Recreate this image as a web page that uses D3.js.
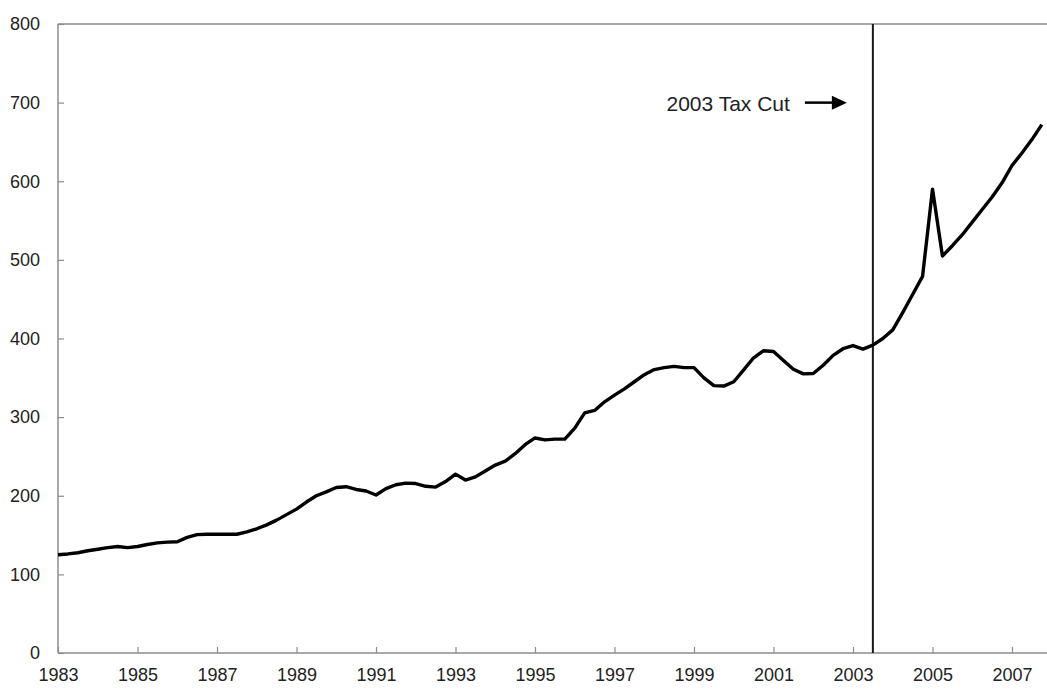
<!DOCTYPE html>
<html>
<head>
<meta charset="utf-8">
<script src="https://cdn.jsdelivr.net/npm/d3@7"></script>
<style>
  html, body { margin: 0; padding: 0; background: #fff; }
  svg { display: block; font-family: "Liberation Sans", Arial, sans-serif; }
</style>
</head>
<body>
<svg id="chart" width="1047" height="692"></svg>
<script>
// Quarterly series, 1983 Q1 .. 2007 Q4
const startYear = 1983;
const values = [
  125, 126, 127.5, 130, 132, 134, 135.5, 134,
  135.5, 138, 140, 141, 141.5, 147, 150.5, 151,
  151, 151, 151, 154, 158, 163, 169, 176,
  183, 192, 200, 205, 210.5, 211.5, 208, 206,
  201, 209, 214, 216, 215.5, 212, 211, 218,
  227.5, 220, 224, 231.5, 239, 244, 253.5, 265,
  273.5, 271, 272, 272, 286, 305.5, 308.5, 319.5,
  328, 336, 345, 354, 360.5, 363, 364.5, 363,
  363, 350, 340, 339.5, 345, 360, 375.5, 384.5,
  383.5, 372, 361, 355, 355.5, 366, 378.5, 387,
  391, 386.5, 391.5, 400, 411, 433, 456, 479,
  590, 505, 518, 532, 548, 564, 580, 598,
  620, 636, 653, 672
];
const xTickYears = [1983, 1985, 1987, 1989, 1991, 1993, 1995, 1997, 1999, 2001, 2003, 2005, 2007];
const yTicks = [0, 100, 200, 300, 400, 500, 600, 700, 800];
const taxCutYear = 2003.5;
const annotationText = "2003 Tax Cut";

(function () {
const data = values.map((v, i) => ({ t: startYear + i / 4, v }));

const svg = d3.select("#chart");
const pLeft = 58, pRight = 1047, pTop = 24, pBottom = 653;

const x = d3.scaleLinear().domain([1983, 1983 + (pRight - pLeft) / 39.75]).range([pLeft, pRight]);
const y = d3.scaleLinear().domain([0, 800]).range([pBottom, pTop]);

const axisColor = "#8c8c8c";

// Frame lines: left, top
svg.append("line").attr("x1", pLeft).attr("x2", pLeft).attr("y1", pTop).attr("y2", pBottom)
  .attr("stroke", axisColor).attr("stroke-width", 1.5);
svg.append("line").attr("x1", pLeft).attr("x2", pRight).attr("y1", pTop).attr("y2", pTop)
  .attr("stroke", axisColor).attr("stroke-width", 1.5);

// Y axis
const yAxis = d3.axisLeft(y).tickValues(yTicks).tickSize(-6).tickPadding(18).tickFormat(d3.format("d"));
const gy = svg.append("g").attr("transform", `translate(${pLeft},0)`).call(yAxis);
gy.select(".domain").remove();
gy.selectAll(".tick line").attr("stroke", axisColor).attr("stroke-width", 1.2);
gy.selectAll(".tick text").attr("font-size", 18).attr("fill", "#222")
  .attr("font-family", "Liberation Sans, Arial, sans-serif");

// X axis
const xAxis = d3.axisBottom(x).tickValues(xTickYears).tickSize(-6).tickPadding(15).tickFormat(d3.format("d"));
const gx = svg.append("g").attr("transform", `translate(0,${pBottom})`).call(xAxis);
gx.select(".domain").attr("stroke", axisColor).attr("stroke-width", 1.5)
  .attr("d", `M${pLeft},0H${pRight}`);
gx.selectAll(".tick line").attr("stroke", axisColor).attr("stroke-width", 1.2);
gx.selectAll(".tick text").attr("font-size", 18).attr("fill", "#222")
  .attr("font-family", "Liberation Sans, Arial, sans-serif");

// Vertical tax-cut line
svg.append("line")
  .attr("x1", x(taxCutYear)).attr("x2", x(taxCutYear))
  .attr("y1", pTop).attr("y2", pBottom)
  .attr("stroke", "#1a1a1a").attr("stroke-width", 2);

// Data line
const line = d3.line().x(d => x(d.t)).y(d => y(d.v));
svg.append("path").datum(data)
  .attr("d", line)
  .attr("fill", "none")
  .attr("stroke", "#000")
  .attr("stroke-width", 3.4)
  .attr("stroke-linejoin", "round");

// Annotation
const annY = y(700);
svg.append("text")
  .attr("x", x(taxCutYear) - 83).attr("y", annY + 8)
  .attr("text-anchor", "end")
  .attr("font-size", 21).attr("fill", "#222")
  .text(annotationText);

const ax0 = x(taxCutYear) - 68, ax1 = x(taxCutYear) - 26;
svg.append("line").attr("x1", ax0).attr("x2", ax1 - 12).attr("y1", annY).attr("y2", annY)
  .attr("stroke", "#000").attr("stroke-width", 2.5);
svg.append("path")
  .attr("d", `M${ax1},${annY} L${ax1 - 15},${annY - 7} L${ax1 - 15},${annY + 7} Z`)
  .attr("fill", "#000");
})();
</script>
</body>
</html>
